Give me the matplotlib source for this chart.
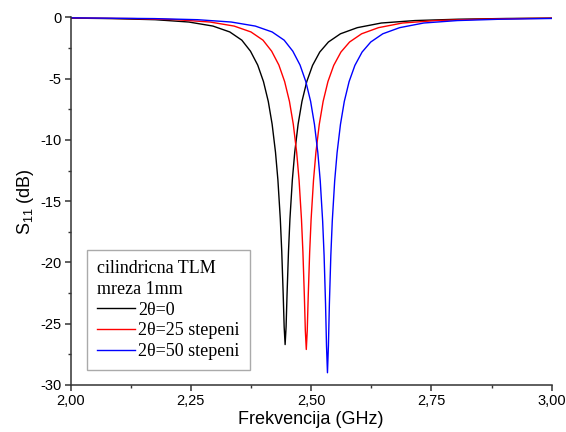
import matplotlib
matplotlib.use("Agg")
import matplotlib.pyplot as plt
from matplotlib.ticker import MultipleLocator, FuncFormatter

# S11 (dB), one frequency list per curve (GHz)
f_0 = [2.000, 2.086, 2.176, 2.246, 2.296, 2.331, 2.356, 2.374, 2.389, 2.401,
       2.411, 2.419, 2.426, 2.431, 2.436, 2.439, 2.442, 2.444, 2.446,
       2.448, 2.450, 2.453, 2.456, 2.461, 2.466, 2.473, 2.481, 2.491, 2.503,
       2.518, 2.536, 2.561, 2.596, 2.646, 2.716, 2.806, 2.906, 3.000]
s_0 = [-0.05, -0.09, -0.18, -0.37, -0.70, -1.18, -1.85, -2.75, -3.88, -5.23,
       -6.85, -8.71, -11.00, -13.26, -16.45, -19.10, -22.61, -25.26, -26.70,
       -25.26, -22.61, -19.10, -16.45, -13.26, -11.00, -8.71, -6.85, -5.23, -3.91,
       -2.82, -2.00, -1.33, -0.83, -0.45, -0.25, -0.14, -0.08, -0.05]

f_25 = [2.000, 2.130, 2.220, 2.290, 2.340, 2.375, 2.400, 2.418, 2.433, 2.445,
        2.455, 2.463, 2.470, 2.475, 2.480, 2.483, 2.486, 2.488, 2.490,
        2.492, 2.494, 2.497, 2.500, 2.505, 2.510, 2.517, 2.525, 2.535, 2.547,
        2.562, 2.580, 2.605, 2.640, 2.690, 2.760, 2.850, 2.950, 3.000]
s_25 = [-0.04, -0.09, -0.18, -0.37, -0.70, -1.18, -1.85, -2.75, -3.88, -5.23,
        -6.85, -8.72, -11.01, -13.28, -16.48, -19.17, -22.76, -25.55, -27.10,
        -25.55, -22.76, -19.17, -16.48, -13.28, -11.01, -8.72, -6.85, -5.23, -3.91,
        -2.82, -2.00, -1.33, -0.83, -0.45, -0.25, -0.14, -0.08, -0.06]

f_50 = [2.000, 2.174, 2.264, 2.334, 2.384, 2.419, 2.444, 2.462, 2.477, 2.489,
        2.499, 2.507, 2.514, 2.519, 2.524, 2.527, 2.530, 2.532, 2.534,
        2.536, 2.538, 2.541, 2.544, 2.549, 2.554, 2.561, 2.569, 2.579, 2.591,
        2.606, 2.624, 2.649, 2.684, 2.734, 2.804, 2.894, 3.000]
s_50 = [-0.03, -0.09, -0.18, -0.37, -0.70, -1.18, -1.85, -2.75, -3.88, -5.23,
        -6.85, -8.73, -11.04, -13.34, -16.62, -19.42, -23.37, -26.78, -29.00,
        -26.78, -23.37, -19.42, -16.62, -13.34, -11.04, -8.73, -6.85, -5.23, -3.91,
        -2.82, -2.00, -1.33, -0.83, -0.45, -0.25, -0.14, -0.08]

labels = ["2θ=0", "2θ=25 stepeni", "2θ=50 stepeni"]
colors = ["black", "red", "blue"]

plt.rcParams.update({
    "font.family": ["Liberation Sans", "DejaVu Sans"],
    "axes.unicode_minus": False,
    "mathtext.default": "regular",
})

fig = plt.figure(figsize=(5.66, 4.32), dpi=100)
ax = fig.add_axes([0.1246, 0.1088, 0.8501, 0.8507])

for f, s, lab, c in zip([f_0, f_25, f_50], [s_0, s_25, s_50], labels, colors):
    ax.plot(f, s, color=c, lw=1.0, label=lab)

ax.set_xlim(2.0, 3.0)
ax.set_ylim(-30, 0)
ax.xaxis.set_major_locator(MultipleLocator(0.25))
ax.xaxis.set_minor_locator(MultipleLocator(0.125))
ax.yaxis.set_major_locator(MultipleLocator(5))
ax.yaxis.set_minor_locator(MultipleLocator(2.5))
ax.xaxis.set_major_formatter(FuncFormatter(lambda v, p: f"{v:.2f}".replace(".", ",")))
ax.yaxis.set_major_formatter(FuncFormatter(lambda v, p: f"{v:.0f}"))

for side in ("top", "right"):
    ax.spines[side].set_visible(False)
for side in ("left", "bottom"):
    ax.spines[side].set_linewidth(1.1)
    ax.spines[side].set_color("#333333")
ax.tick_params(which="major", direction="out", length=4.5, width=1.1,
               color="#333333", labelsize=10.5, pad=2)
ax.tick_params(which="minor", direction="out", length=2.5, width=1.0, color="#333333")

ax.set_xlabel("Frekvencija (GHz)", fontsize=13, labelpad=2)
ax.set_ylabel("S$_{11}$ (dB)", fontsize=13, labelpad=3)

leg = ax.legend(title="cilindricna TLM\nmreza 1mm", loc="lower left",
                bbox_to_anchor=(0.034, 0.041), borderaxespad=0,
                prop={"family": "Liberation Serif", "size": 13},
                title_fontproperties={"family": "Liberation Serif", "size": 13},
                alignment="left", fancybox=False, framealpha=1,
                edgecolor="#aaaaaa", handlelength=2.1, handletextpad=0.2,
                labelspacing=0.2, borderpad=0.55)
leg.get_frame().set_linewidth(1.0)
leg.get_title().set_multialignment("left")
leg.get_title().set_linespacing(1.35)

fig.savefig("out.png", dpi=100)
